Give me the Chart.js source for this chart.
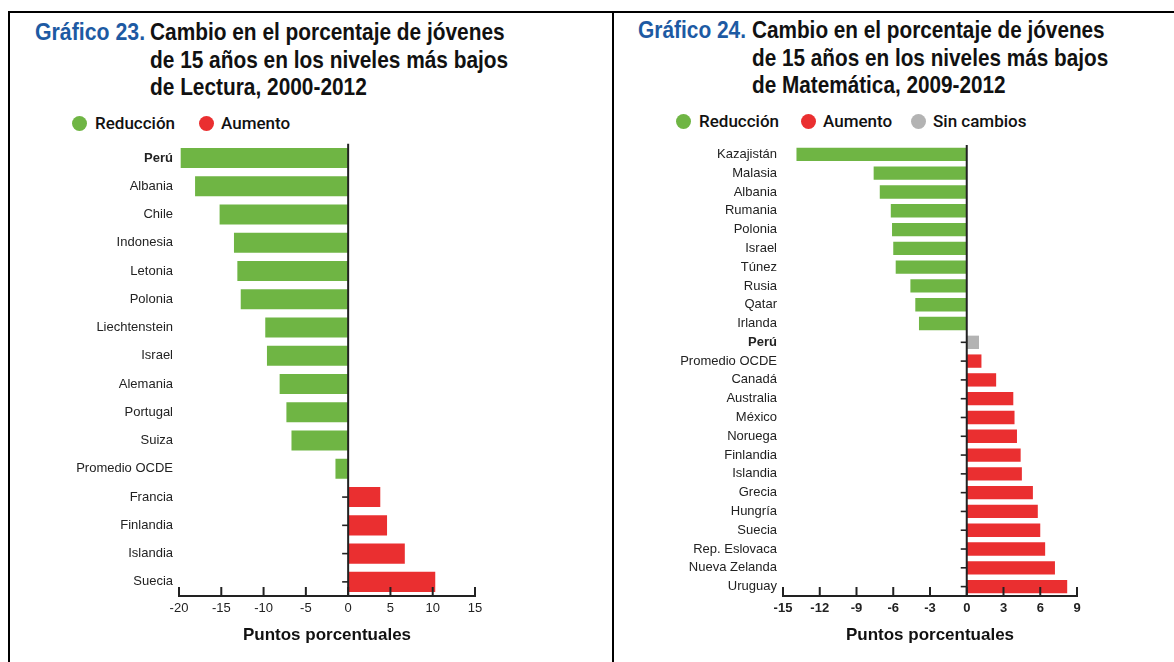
<!DOCTYPE html>
<html>
<head>
<meta charset="utf-8">
<script src="https://cdn.jsdelivr.net/npm/chart.js@4.4.0/dist/chart.umd.min.js"></script>
<style>
  html,body{margin:0;padding:0;background:#fff;}
  body{width:1174px;height:662px;position:relative;overflow:hidden;font-family:"Liberation Sans",Arial,sans-serif;}
  .line{position:absolute;background:#000;}
  .ttl{position:absolute;font-family:"Liberation Sans Narrow","Liberation Sans",Arial,sans-serif;font-weight:bold;font-size:24px;line-height:27.5px;white-space:nowrap;color:#111;transform-origin:0 0;}
  .lbl{color:#1d5aa3;}
  .lg-dot{position:absolute;width:15px;height:15px;border-radius:50%;}
  .lg-txt{position:absolute;font-family:Roboto,"Liberation Sans",sans-serif;font-weight:500;font-size:17px;line-height:20px;color:#111;white-space:nowrap;}
  canvas{position:absolute;}
</style>
</head>
<body>
<div class="line" style="left:8px;top:11px;width:1166px;height:2px;"></div>
<div class="line" style="left:8px;top:11px;width:2px;height:651px;"></div>
<div class="line" style="left:612px;top:11px;width:2px;height:651px;"></div>

<div class="ttl lbl" id="l23" data-w="110" style="left:35px;top:18px;">Gráfico 23.</div>
<div class="ttl" id="t23" data-w="358" style="left:150px;top:18px;">Cambio en el porcentaje de jóvenes<br>de 15 años en los niveles más bajos<br>de Lectura, 2000-2012</div>
<div class="ttl lbl" id="l24" data-w="108" style="left:638px;top:16px;">Gráfico 24.</div>
<div class="ttl" id="t24" data-w="356" style="left:752px;top:16px;">Cambio en el porcentaje de jóvenes<br>de 15 años en los niveles más bajos<br>de Matemática, 2009-2012</div>

<div class="lg-dot" style="left:72px;top:116px;background:#6fb544;"></div>
<div class="lg-txt" style="left:95px;top:113px;">Reducción</div>
<div class="lg-dot" style="left:199px;top:116px;background:#ea2f30;"></div>
<div class="lg-txt" style="left:221px;top:113px;">Aumento</div>

<div class="lg-dot" style="left:676px;top:114px;background:#6fb544;"></div>
<div class="lg-txt" style="left:699px;top:111px;">Reducción</div>
<div class="lg-dot" style="left:801px;top:114px;background:#ea2f30;"></div>
<div class="lg-txt" style="left:823px;top:111px;">Aumento</div>
<div class="lg-dot" style="left:911px;top:114px;background:#b3b3b3;"></div>
<div class="lg-txt" style="left:933px;top:111px;">Sin cambios</div>

<canvas id="c23" width="612" height="532" style="left:0;top:130px;"></canvas>
<canvas id="c24" width="560" height="532" style="left:614px;top:130px;"></canvas>

<script>
// ---------- DATA ----------
const paises23 = ["Perú","Albania","Chile","Indonesia","Letonia","Polonia","Liechtenstein","Israel","Alemania","Portugal","Suiza","Promedio OCDE","Francia","Finlandia","Islandia","Suecia"];
const cambio23 = [-19.8,-18.1,-15.2,-13.5,-13.1,-12.7,-9.8,-9.6,-8.1,-7.3,-6.7,-1.5,3.8,4.6,6.7,10.3];
const ticks23 = [-20,-15,-10,-5,0,5,10,15];

const paises24 = ["Kazajistán","Malasia","Albania","Rumania","Polonia","Israel","Túnez","Rusia","Qatar","Irlanda","Perú","Promedio OCDE","Canadá","Australia","México","Noruega","Finlandia","Islandia","Grecia","Hungría","Suecia","Rep. Eslovaca","Nueva Zelanda","Uruguay"];
const cambio24 = [-13.9,-7.6,-7.1,-6.2,-6.1,-6.0,-5.8,-4.6,-4.2,-3.9,1.0,1.2,2.4,3.8,3.9,4.1,4.4,4.5,5.4,5.8,6.0,6.4,7.2,8.2];
const sinCambios24 = ["Perú"];
const ticks24 = [-15,-12,-9,-6,-3,0,3,6,9];

const VERDE = "#6fb544", ROJO = "#ea2f30", GRIS = "#b3b3b3";

// ---------- title fitting ----------
document.querySelectorAll('.ttl').forEach(el => {
  const w = el.scrollWidth, target = +el.dataset.w;
  el.style.transform = 'scaleX(' + (target / w) + ')';
});

// ---------- plugin: axis lines and inward ticks ----------
const axisDeco = {
  id: 'axisDeco',
  beforeDatasetsDraw(chart) {
    const {ctx} = chart, xs = chart.scales.x, ys = chart.scales.y;
    const x0 = xs.getPixelForValue(0);
    ctx.save();
    ctx.strokeStyle = '#222'; ctx.lineWidth = 1.6;
    ys.ticks.forEach((t, i) => {
      const py = ys.getPixelForTick(i);
      ctx.beginPath(); ctx.moveTo(x0 - 6, py); ctx.lineTo(x0, py); ctx.stroke();
    });
    ctx.restore();
  },
  afterDatasetsDraw(chart) {
    const {ctx, chartArea} = chart, xs = chart.scales.x;
    const x0 = xs.getPixelForValue(0);
    const b = chartArea.bottom;
    ctx.save();
    ctx.strokeStyle = '#222'; ctx.lineWidth = 2;
    ctx.beginPath(); ctx.moveTo(x0, chartArea.top); ctx.lineTo(x0, b); ctx.stroke();
    ctx.beginPath(); ctx.moveTo(xs.getPixelForValue(xs.min) - 1, b); ctx.lineTo(xs.getPixelForValue(xs.max) + 1, b); ctx.stroke();
    xs.ticks.forEach((t, i) => {
      const px = xs.getPixelForTick(i);
      ctx.beginPath(); ctx.moveTo(px, b); ctx.lineTo(px, b - 9); ctx.stroke();
    });
    ctx.restore();
  }
};

function makeChart(id, labels, values, colors, tickVals, opt) {
  return new Chart(document.getElementById(id), {
    type: 'bar',
    data: { labels: labels, datasets: [{ data: values, backgroundColor: colors, borderWidth: 0, categoryPercentage: 1, barPercentage: 0.71 }] },
    options: {
      indexAxis: 'y', responsive: false, animation: false, devicePixelRatio: 1,
      layout: { padding: { left: 0, right: opt.padRight, top: opt.padTop, bottom: 0 } },
      plugins: { legend: { display: false }, tooltip: { enabled: false } },
      scales: {
        x: {
          type: 'linear', min: tickVals[0], max: tickVals[tickVals.length - 1],
          afterBuildTicks: s => { s.ticks = tickVals.map(v => ({ value: v })); },
          afterFit: s => { s.height = 66; },
          grid: { display: false, drawTicks: false }, border: { display: false },
          ticks: { padding: 5, color: '#222', font: { family: 'Liberation Sans', size: 13, weight: opt.tickBold ? 'bold' : 'normal' }, callback: v => String(v) },
          title: { display: true, text: 'Puntos porcentuales', color: '#111', font: { family: 'Liberation Sans', size: 17, weight: 'bold' }, padding: { top: 4, bottom: 16 } }
        },
        y: {
          type: 'category', offset: true,
          afterFit: s => { s.width = opt.yWidth; },
          grid: { display: false, drawTicks: false }, border: { display: false },
          ticks: {
            padding: 6, color: '#222', autoSkip: false,
            font: ctx => ({ family: 'Liberation Sans', size: 13, weight: (labels[ctx.index] === 'Perú') ? 'bold' : 'normal' })
          }
        }
      }
    },
    plugins: [axisDeco]
  });
}

const col23 = cambio23.map(v => v < 0 ? VERDE : ROJO);
const col24 = cambio24.map((v, i) => sinCambios24.includes(paises24[i]) ? GRIS : (v < 0 ? VERDE : ROJO));

makeChart('c23', paises23, cambio23, col23, ticks23, { padRight: 137, padTop: 12, yWidth: 179, tickBold: false });
makeChart('c24', paises24, cambio24, col24, ticks24, { padRight: 97, padTop: 15, yWidth: 169, tickBold: true });
</script>
</body>
</html>
